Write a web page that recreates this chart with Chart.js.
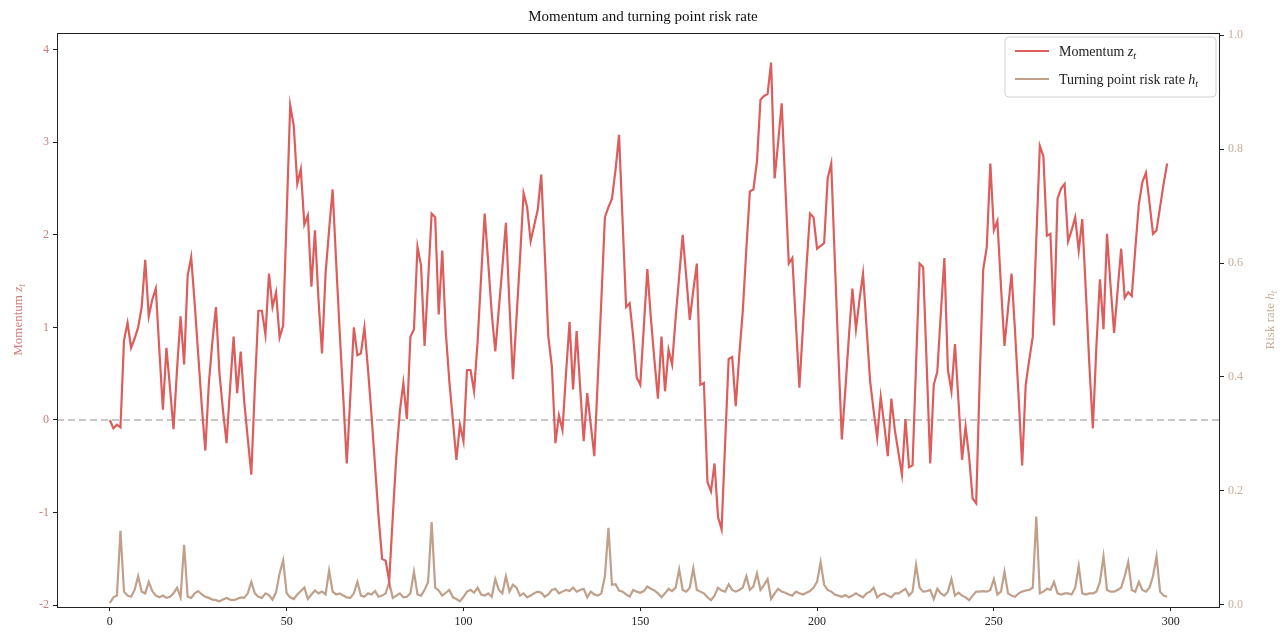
<!DOCTYPE html>
<html>
<head>
<meta charset="utf-8">
<script src="https://cdn.jsdelivr.net/npm/chart.js@4/dist/chart.umd.min.js"></script>
<style>
  html, body { margin: 0; padding: 0; background: #ffffff; }
  #wrap { width: 1286px; height: 637px; }
</style>
</head>
<body>
<div id="wrap"><canvas id="chart" width="1286" height="637"></canvas></div>
<script>
// ---- data ----
const chartTitle = 'Momentum and turning point risk rate';
const steps = Array.from({ length: 300 }, (_, i) => i);

const momentum = [
  0.00, -0.09, -0.05, -0.08, 0.86, 1.05, 0.78, 0.88, 1.00, 1.22,
  1.73, 1.12, 1.30, 1.42, 0.75, 0.11, 0.78, 0.35, -0.10, 0.55,
  1.12, 0.60, 1.56, 1.76, 1.25, 0.70, 0.15, -0.33, 0.40, 0.85,
  1.22, 0.50, 0.10, -0.25, 0.35, 0.90, 0.29, 0.74, 0.20, -0.20,
  -0.59, 0.35, 1.18, 1.18, 0.92, 1.58, 1.22, 1.38, 0.89, 1.02,
  2.20, 3.40, 3.18, 2.55, 2.71, 2.11, 2.21, 1.44, 2.05, 1.30,
  0.72, 1.58, 2.05, 2.49, 1.70, 0.95, 0.25, -0.47, 0.25, 1.00,
  0.70, 0.72, 1.00, 0.55, 0.05, -0.50, -1.05, -1.50, -1.52, -1.74,
  -1.05, -0.40, 0.09, 0.40, 0.01, 0.90, 0.98, 1.87, 1.67, 0.80,
  1.50, 2.23, 2.19, 1.14, 1.83, 0.95, 0.42, 0.00, -0.43, -0.05,
  -0.23, 0.54, 0.54, 0.31, 0.85, 1.55, 2.23, 1.70, 1.15, 0.74,
  1.20, 1.65, 2.13, 1.25, 0.44, 1.10, 1.75, 2.45, 2.30, 1.93,
  2.10, 2.27, 2.65, 1.80, 0.90, 0.58, -0.25, 0.05, -0.11, 0.50,
  1.06, 0.33, 0.96, 0.35, -0.23, 0.29, -0.05, -0.39, 0.45, 1.30,
  2.19, 2.30, 2.39, 2.70, 3.08, 2.15, 1.22, 1.26, 0.90, 0.46,
  0.38, 1.00, 1.63, 1.10, 0.65, 0.23, 0.90, 0.31, 0.76, 0.60,
  1.10, 1.55, 2.00, 1.55, 1.08, 1.40, 1.69, 0.38, 0.40, -0.67,
  -0.77, -0.47, -1.05, -1.18, -0.25, 0.66, 0.68, 0.15, 0.70, 1.18,
  1.85, 2.47, 2.49, 2.79, 3.46, 3.50, 3.52, 3.86, 2.61, 3.00,
  3.42, 2.55, 1.69, 1.75, 1.05, 0.35, 1.00, 1.65, 2.23, 2.19,
  1.85, 1.88, 1.91, 2.61, 2.77, 1.75, 0.74, -0.21, 0.33, 0.90,
  1.42, 0.98, 1.30, 1.58, 1.00, 0.42, 0.10, -0.19, 0.25, -0.05,
  -0.39, 0.23, -0.11, -0.35, -0.59, 0.01, -0.51, -0.49, 0.60, 1.69,
  1.65, 0.60, -0.47, 0.38, 0.52, 1.15, 1.75, 0.54, 0.31, 0.82,
  0.20, -0.43, -0.07, -0.40, -0.85, -0.90, 0.45, 1.63, 1.87, 2.77,
  2.05, 2.15, 1.45, 0.80, 1.20, 1.58, 0.95, 0.25, -0.49, 0.38,
  0.65, 0.90, 1.95, 2.96, 2.85, 1.99, 2.01, 1.02, 2.39, 2.50,
  2.55, 1.93, 2.05, 2.19, 1.83, 2.17, 1.40, 0.60, -0.09, 0.80,
  1.52, 0.98, 2.01, 1.45, 0.94, 1.40, 1.85, 1.32, 1.38, 1.34,
  1.85, 2.33, 2.57, 2.67, 2.35, 2.01, 2.05, 2.30, 2.55, 2.77
];

const riskRate = [
  0.003, 0.013, 0.016, 0.130, 0.023, 0.016, 0.014, 0.026, 0.050, 0.023,
  0.020, 0.040, 0.024, 0.016, 0.013, 0.016, 0.012, 0.014, 0.020, 0.030,
  0.013, 0.105, 0.014, 0.012, 0.020, 0.024, 0.018, 0.014, 0.012, 0.009,
  0.008, 0.006, 0.009, 0.012, 0.009, 0.008, 0.010, 0.013, 0.012, 0.020,
  0.040, 0.020, 0.014, 0.012, 0.020, 0.017, 0.009, 0.022, 0.055, 0.078,
  0.020, 0.013, 0.010, 0.018, 0.024, 0.030, 0.010, 0.018, 0.025, 0.020,
  0.023, 0.018, 0.060, 0.023, 0.018, 0.020, 0.016, 0.013, 0.012, 0.020,
  0.040, 0.016, 0.014, 0.020, 0.018, 0.024, 0.014, 0.016, 0.020, 0.040,
  0.012, 0.016, 0.020, 0.013, 0.014, 0.020, 0.058, 0.018, 0.016, 0.026,
  0.040, 0.145, 0.030, 0.025, 0.016, 0.021, 0.026, 0.013, 0.010, 0.006,
  0.014, 0.023, 0.026, 0.021, 0.030, 0.018, 0.016, 0.020, 0.014, 0.045,
  0.026, 0.020, 0.050, 0.023, 0.035, 0.030, 0.016, 0.020, 0.013, 0.016,
  0.020, 0.023, 0.021, 0.014, 0.018, 0.026, 0.028, 0.020, 0.023, 0.026,
  0.024, 0.030, 0.023, 0.026, 0.028, 0.013, 0.023, 0.018, 0.016, 0.020,
  0.050, 0.135, 0.035, 0.036, 0.025, 0.023, 0.018, 0.014, 0.026, 0.023,
  0.021, 0.024, 0.032, 0.028, 0.025, 0.020, 0.013, 0.020, 0.028, 0.024,
  0.030, 0.062, 0.026, 0.023, 0.030, 0.064, 0.026, 0.023, 0.020, 0.013,
  0.008, 0.016, 0.030, 0.025, 0.023, 0.036, 0.026, 0.023, 0.026, 0.030,
  0.050, 0.026, 0.032, 0.055, 0.026, 0.035, 0.045, 0.010, 0.020, 0.028,
  0.023, 0.021, 0.018, 0.016, 0.023, 0.020, 0.018, 0.021, 0.024, 0.030,
  0.040, 0.075, 0.035, 0.026, 0.023, 0.018, 0.016, 0.014, 0.017, 0.013,
  0.016, 0.020, 0.016, 0.013, 0.020, 0.023, 0.030, 0.013, 0.018, 0.020,
  0.016, 0.013, 0.020, 0.020, 0.024, 0.028, 0.016, 0.023, 0.070, 0.030,
  0.023, 0.024, 0.026, 0.010, 0.028, 0.020, 0.016, 0.023, 0.045, 0.016,
  0.021, 0.016, 0.013, 0.008, 0.016, 0.023, 0.023, 0.024, 0.023, 0.026,
  0.045, 0.018, 0.023, 0.058, 0.020, 0.016, 0.014, 0.020, 0.023, 0.025,
  0.026, 0.030, 0.155, 0.020, 0.023, 0.028, 0.026, 0.040, 0.020, 0.018,
  0.020, 0.020, 0.018, 0.030, 0.068, 0.020, 0.018, 0.020, 0.020, 0.023,
  0.040, 0.085, 0.026, 0.023, 0.023, 0.026, 0.030, 0.050, 0.075, 0.026,
  0.023, 0.040, 0.026, 0.023, 0.030, 0.050, 0.085, 0.023, 0.016, 0.014
];

const xTicks = [0, 50, 100, 150, 200, 250, 300];
const momentumTicks = [-2, -1, 0, 1, 2, 3, 4];
const riskTicks = [0, 0.2, 0.4, 0.6, 0.8, 1.0];

// ---- styling ----
const SERIF = '"Liberation Serif", "DejaVu Serif", serif';
const RED = '#dc5d5b';
const TAN = '#bfa08b';
const RED_TEXT = '#cf7b78';
const TAN_TEXT = '#c9ad98';

// draws a run of text pieces (plain / italic / subscript) starting at x
function drawRich(ctx, segs, x, y, size, color) {
  let cx = x;
  ctx.fillStyle = color;
  ctx.textBaseline = 'alphabetic';
  ctx.textAlign = 'left';
  for (const s of segs) {
    const fs = s.sub ? size * 0.72 : size;
    ctx.font = (s.it ? 'italic ' : '') + fs + 'px ' + SERIF;
    ctx.fillText(s.t, cx, y + (s.sub ? size * 0.22 : 0));
    cx += ctx.measureText(s.t).width;
  }
  return cx - x;
}
function richWidth(ctx, segs, size) {
  let w = 0;
  for (const s of segs) {
    const fs = s.sub ? size * 0.72 : size;
    ctx.font = (s.it ? 'italic ' : '') + fs + 'px ' + SERIF;
    w += ctx.measureText(s.t).width;
  }
  return w;
}

const momentumLabel = [{ t: 'Momentum ' }, { t: 'z', it: true }, { t: 't', it: true, sub: true }];
const riskLegendLabel = [{ t: 'Turning point risk rate ' }, { t: 'h', it: true }, { t: 't', it: true, sub: true }];
const riskAxisLabel = [{ t: 'Risk rate ' }, { t: 'h', it: true }, { t: 't', it: true, sub: true }];

// zero reference line behind the series
const zeroLine = {
  id: 'zeroLine',
  beforeDatasetsDraw(chart) {
    const { ctx, chartArea } = chart;
    const y = chart.scales.y.getPixelForValue(0);
    ctx.save();
    ctx.strokeStyle = '#b5b5b5';
    ctx.lineWidth = 1.3;
    ctx.setLineDash([7, 4]);
    ctx.beginPath();
    ctx.moveTo(chartArea.left, y);
    ctx.lineTo(chartArea.right, y);
    ctx.stroke();
    ctx.restore();
  }
};

// frame, axis titles and legend
const decorations = {
  id: 'decorations',
  afterDraw(chart) {
    const { ctx, chartArea } = chart;
    ctx.save();
    ctx.strokeStyle = '#222';
    ctx.lineWidth = 1;
    ctx.setLineDash([]);
    ctx.strokeRect(chartArea.left + 0.5, chartArea.top + 0.5,
      chartArea.right - chartArea.left - 1, chartArea.bottom - chartArea.top);

    const midY = (chartArea.top + chartArea.bottom) / 2;
    // left axis title
    ctx.save();
    ctx.translate(22, midY);
    ctx.rotate(-Math.PI / 2);
    let w = richWidth(ctx, momentumLabel, 13);
    drawRich(ctx, momentumLabel, -w / 2, 0, 13, RED_TEXT);
    ctx.restore();
    // right axis title
    ctx.save();
    ctx.translate(1274, midY);
    ctx.rotate(-Math.PI / 2);
    w = richWidth(ctx, riskAxisLabel, 13);
    drawRich(ctx, riskAxisLabel, -w / 2, 0, 13, TAN_TEXT);
    ctx.restore();

    // legend box
    const bx = 1005, by = 37, bw = 211, bh = 60, r = 4;
    ctx.fillStyle = 'rgba(255,255,255,0.85)';
    ctx.strokeStyle = '#d2d2d2';
    ctx.beginPath();
    ctx.moveTo(bx + r, by);
    ctx.arcTo(bx + bw, by, bx + bw, by + bh, r);
    ctx.arcTo(bx + bw, by + bh, bx, by + bh, r);
    ctx.arcTo(bx, by + bh, bx, by, r);
    ctx.arcTo(bx, by, bx + bw, by, r);
    ctx.closePath();
    ctx.fill();
    ctx.stroke();

    const entries = [
      { segs: momentumLabel, color: RED, y: by + 14 },
      { segs: riskLegendLabel, color: TAN, y: by + 42 }
    ];
    for (const e of entries) {
      ctx.strokeStyle = e.color;
      ctx.lineWidth = 2;
      ctx.beginPath();
      ctx.moveTo(bx + 10, e.y);
      ctx.lineTo(bx + 44, e.y);
      ctx.stroke();
      drawRich(ctx, e.segs, bx + 54, e.y + 5, 14, '#222');
    }
    ctx.restore();
  }
};

const axisFont = { family: SERIF, size: 12 };
const tickGrid = { display: true, drawOnChartArea: false, drawTicks: true, tickLength: 4, color: '#222' };

new Chart(document.getElementById('chart'), {
  type: 'line',
  data: {
    datasets: [
      {
        label: 'Momentum',
        data: steps.map((s, i) => ({ x: s, y: momentum[i] })),
        yAxisID: 'y',
        borderColor: RED,
        borderWidth: 2.2,
        pointRadius: 0,
        tension: 0,
        fill: false
      },
      {
        label: 'Turning point risk rate',
        data: steps.map((s, i) => ({ x: s, y: riskRate[i] })),
        yAxisID: 'y1',
        borderColor: TAN,
        borderWidth: 2.2,
        pointRadius: 0,
        tension: 0,
        fill: false
      }
    ]
  },
  options: {
    responsive: false,
    animation: false,
    devicePixelRatio: 1,
    layout: { padding: 0 },
    plugins: {
      legend: { display: false },
      tooltip: { enabled: false },
      title: {
        display: true,
        text: chartTitle,
        color: '#111',
        font: { family: SERIF, size: 15, weight: 'normal' },
        padding: { top: 8, bottom: 7 }
      }
    },
    scales: {
      x: {
        type: 'linear',
        min: -14.95,
        max: 313.95,
        afterBuildTicks: s => { s.ticks = xTicks.map(v => ({ value: v })); },
        afterFit: s => { s.height = 30; },
        grid: tickGrid,
        border: { display: false },
        ticks: { font: axisFont, color: '#222', padding: 4, maxRotation: 0 }
      },
      y: {
        type: 'linear',
        position: 'left',
        min: -2.02,
        max: 4.18,
        afterBuildTicks: s => { s.ticks = momentumTicks.map(v => ({ value: v })); },
        afterFit: s => { s.width = 57; },
        grid: tickGrid,
        border: { display: false },
        ticks: { font: axisFont, color: RED_TEXT, padding: 4 }
      },
      y1: {
        type: 'linear',
        position: 'right',
        min: -0.004,
        max: 1.004,
        afterBuildTicks: s => { s.ticks = riskTicks.map(v => ({ value: v })); },
        afterFit: s => { s.width = 66; },
        grid: tickGrid,
        border: { display: false },
        ticks: { font: axisFont, color: TAN_TEXT, padding: 4, callback: v => v.toFixed(1) }
      }
    }
  },
  plugins: [zeroLine, decorations]
});
</script>
</body>
</html>
